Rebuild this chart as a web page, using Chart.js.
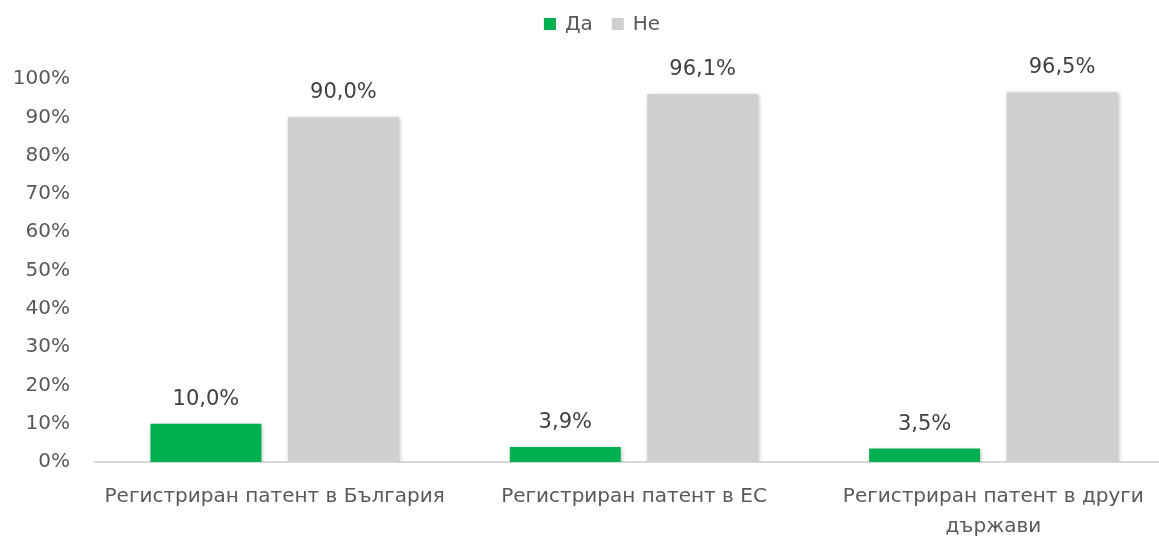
<!DOCTYPE html>
<html>
<head>
<meta charset="utf-8">
<script src="https://cdn.jsdelivr.net/npm/chart.js@4/dist/chart.umd.min.js"></script>
<style>
  html, body { margin: 0; padding: 0; background: #fff; }
  #wrap { width: 1159px; height: 539px; overflow: hidden; }
</style>
</head>
<body>
<div id="wrap"><canvas id="chart" width="1173" height="539"></canvas></div>
<script>
const categories = [
  `Регистриран патент в България`,
  `Регистриран патент в ЕС`,
  [`Регистриран патент в други`, `държави`]
];
const seriesNames = [`Да`, `Не`];
const seriesColors = [`#00B050`, `#D0CECE`];
const yesValues = [10.0, 3.9, 3.5];
const noValues = [90.0, 96.1, 96.5];

const textColor = `#595959`;
const fontFamily = `"DejaVu Sans", "Noto Sans", sans-serif`;

// legend row drawn by hand, a little right of centre
const topLegend = {
  id: `topLegend`,
  afterDraw(chart) {
    const ctx = chart.ctx;
    const box = 12, gap = 9, spacing = 19, centerX = 602, centerY = 24;
    ctx.save();
    ctx.font = `20px ${fontFamily}`;
    ctx.textBaseline = `middle`;
    const items = chart.data.datasets.map(ds => ({
      label: ds.label,
      color: ds.backgroundColor,
      width: box + gap + ctx.measureText(ds.label).width
    }));
    const total = items.reduce((sum, it) => sum + it.width, 0) + spacing * (items.length - 1);
    let x = centerX - total / 2;
    items.forEach(it => {
      ctx.fillStyle = it.color;
      ctx.fillRect(x, centerY - box / 2, box, box);
      ctx.fillStyle = textColor;
      ctx.fillText(it.label, x + box + gap, centerY + 1);
      x += it.width + spacing;
    });
    ctx.restore();
  }
};

// value labels above each bar, "90,0%"
const barValueLabels = {
  id: `barValueLabels`,
  afterDatasetsDraw(chart) {
    const ctx = chart.ctx;
    ctx.save();
    ctx.font = `21px ${fontFamily}`;
    ctx.fillStyle = `#404040`;
    ctx.textAlign = `center`;
    ctx.textBaseline = `alphabetic`;
    chart.data.datasets.forEach((dataset, i) => {
      chart.getDatasetMeta(i).data.forEach((bar, j) => {
        const text = dataset.data[j].toFixed(1).replace(`.`, `,`) + `%`;
        ctx.fillText(text, bar.x, bar.y - 19);
      });
    });
    ctx.restore();
  }
};

// soft shadow under the bars
const barShadow = {
  id: `barShadow`,
  beforeDatasetsDraw(chart) {
    const ctx = chart.ctx;
    ctx.save();
    ctx.shadowColor = `rgba(0,0,0,0.25)`;
    ctx.shadowBlur = 4;
    ctx.shadowOffsetX = 1;
    ctx.shadowOffsetY = 1;
  },
  afterDatasetsDraw(chart) {
    chart.ctx.restore();
  }
};

const config = {
  type: `bar`,
  data: {
    labels: categories,
    datasets: [
      {
        label: seriesNames[0],
        data: yesValues,
        backgroundColor: seriesColors[0],
        categoryPercentage: 0.765,
        barPercentage: 0.807
      },
      {
        label: seriesNames[1],
        data: noValues,
        backgroundColor: seriesColors[1],
        categoryPercentage: 0.765,
        barPercentage: 0.807
      }
    ]
  },
  options: {
    responsive: false,
    animation: false,
    layout: { padding: { top: 79, right: 0, bottom: 0, left: 0 } },
    plugins: {
      legend: { display: false },
      tooltip: { enabled: false }
    },
    scales: {
      x: {
        grid: { display: false, drawTicks: false },
        border: { display: true, color: `#D9D9D9`, width: 2 },
        afterFit: scale => { scale.height = 77; },
        ticks: {
          color: textColor,
          padding: 20,
          maxRotation: 0,
          autoSkip: false,
          font: { family: fontFamily, size: 20, lineHeight: 1.5 }
        }
      },
      y: {
        min: 0,
        max: 100,
        afterFit: scale => { scale.width = 95; },
        grid: { display: false, drawTicks: false },
        border: { display: false },
        ticks: {
          stepSize: 10,
          color: textColor,
          padding: 25,
          font: { family: fontFamily, size: 20 },
          callback: value => `${value}%`
        }
      }
    }
  },
  plugins: [barShadow, barValueLabels, topLegend]
};

new Chart(document.getElementById(`chart`), config);
</script>
</body>
</html>
